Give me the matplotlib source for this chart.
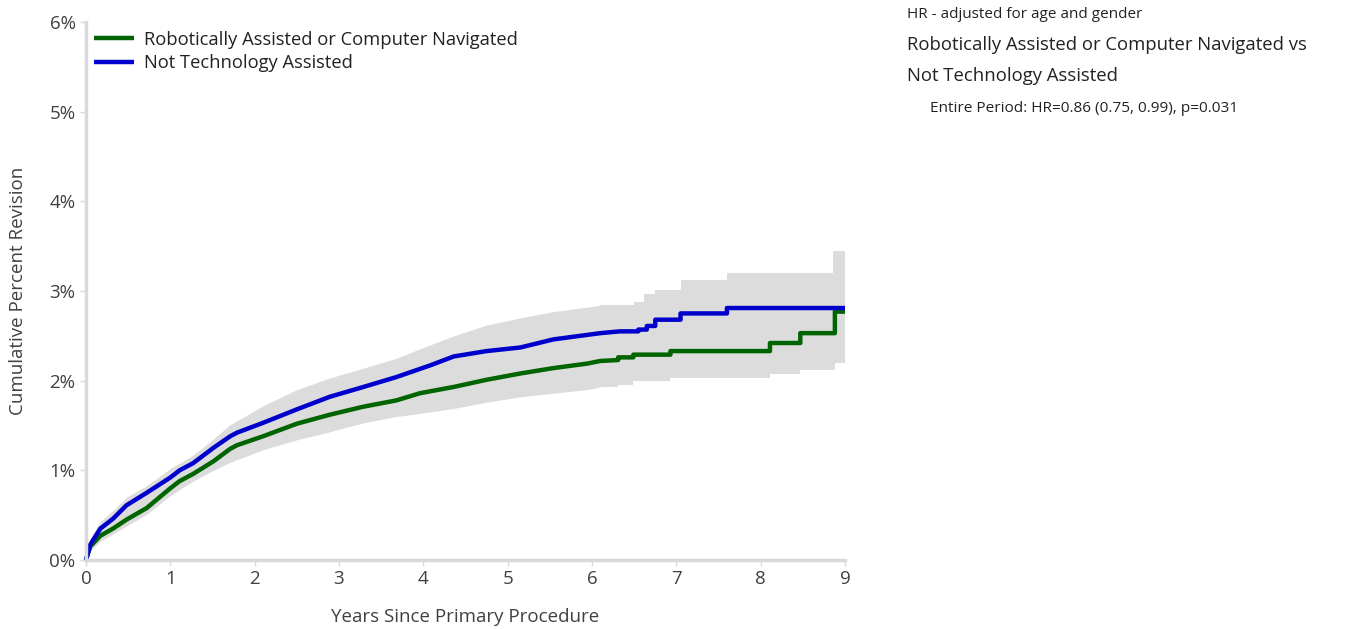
import matplotlib
matplotlib.use("Agg")
import matplotlib.pyplot as plt

plt.rcParams['font.family'] = ['Open Sans', 'DejaVu Sans']

# Not Technology Assisted (blue)
blue_t = [0, 0.05, 0.17, 0.32, 0.48, 0.72, 1.0, 1.11, 1.27, 1.51, 1.71, 1.79,
          2.1, 2.5, 2.89, 3.29, 3.68, 4.08, 4.36, 4.75, 5.15, 5.54, 5.94, 6.1,
          6.33, 6.55, 6.55, 6.65, 6.65, 6.75, 6.75, 7.05, 7.05, 7.6, 7.6, 9.0]
blue_v = [0, 0.17, 0.35, 0.46, 0.61, 0.75, 0.92, 1.0, 1.08, 1.25, 1.38, 1.42,
          1.53, 1.68, 1.82, 1.93, 2.04, 2.17, 2.27, 2.33, 2.37, 2.46, 2.51, 2.53,
          2.55, 2.55, 2.57, 2.57, 2.61, 2.61, 2.68, 2.68, 2.75, 2.75, 2.81, 2.81]

# Robotically Assisted or Computer Navigated (green)
green_t = [0, 0.05, 0.17, 0.32, 0.48, 0.72, 1.0, 1.11, 1.27, 1.51, 1.71, 1.79,
           2.1, 2.5, 2.89, 3.29, 3.68, 3.96, 4.36, 4.75, 5.15, 5.54, 5.94, 6.1,
           6.31, 6.31, 6.49, 6.49, 6.93, 6.93, 8.11, 8.11, 8.47, 8.47, 8.88, 8.88, 9.0]
green_v = [0, 0.15, 0.27, 0.35, 0.45, 0.58, 0.8, 0.88, 0.96, 1.1, 1.24, 1.28,
           1.38, 1.52, 1.62, 1.71, 1.78, 1.86, 1.93, 2.01, 2.08, 2.14, 2.19, 2.22,
           2.23, 2.26, 2.26, 2.29, 2.29, 2.33, 2.33, 2.42, 2.42, 2.53, 2.53, 2.77, 2.77]

# confidence band, early part (smooth)
band_t = [0, 0.05, 0.17, 0.32, 0.48, 0.72, 1.0, 1.27, 1.51, 1.71, 2.1, 2.5,
          2.89, 3.29, 3.68, 4.0, 4.36, 4.75, 5.15, 5.54, 5.94, 6.1]
band_hi = [0, 0.24, 0.43, 0.55, 0.7, 0.83, 1.02, 1.17, 1.35, 1.51, 1.72, 1.9,
           2.03, 2.14, 2.25, 2.37, 2.5, 2.62, 2.7, 2.77, 2.82, 2.84]
band_lo = [0, 0.1, 0.21, 0.29, 0.38, 0.51, 0.72, 0.88, 1.0, 1.09, 1.23, 1.34,
           1.43, 1.53, 1.6, 1.64, 1.69, 1.76, 1.82, 1.86, 1.9, 1.93]

# confidence band, late part (steps)
late_t = [6.1, 6.31, 6.49, 6.5, 6.62, 6.75, 6.93, 7.05, 7.6, 8.11, 8.47, 8.86, 8.88, 9.0]
late_hi = [2.84, 2.84, 2.84, 2.88, 2.97, 3.01, 3.01, 3.12, 3.2, 3.2, 3.2, 3.45, 3.45, 3.45]
late_lo = [1.93, 1.95, 2.0, 2.0, 2.0, 2.0, 2.03, 2.03, 2.03, 2.07, 2.12, 2.12, 2.2, 2.22]

x_ticks = [0, 1, 2, 3, 4, 5, 6, 7, 8, 9]
y_ticks = [0, 1, 2, 3, 4, 5, 6]

txt = '#404040'
band_col = '#dcdcdc'
axis_col = '#d9d9d9'

fig = plt.figure(figsize=(13.71, 6.29), dpi=100)
ax = fig.add_axes([86/1371, 69/629, 759/1371, 538/629])

ax.fill_between(band_t, band_lo, band_hi, color=band_col, lw=0)
ax.fill_between(late_t, late_lo, late_hi, step='post', color=band_col, lw=0)

ax.plot(green_t, green_v, color='#006400', lw=3.2, solid_capstyle='butt',
        clip_on=False, label='Robotically Assisted or Computer Navigated')
ax.plot(blue_t, blue_v, color='#0000cd', lw=3.2, solid_capstyle='butt',
        clip_on=False, label='Not Technology Assisted')

ax.set_xlim(0, 9)
ax.set_ylim(0, 6)
ax.set_xticks(x_ticks)
ax.set_yticks(y_ticks)
ax.set_yticklabels([f'{v}%' for v in y_ticks])
ax.tick_params(colors=axis_col, labelcolor=txt, labelsize=13.5, length=4, width=1)

for s in ['top', 'right']:
    ax.spines[s].set_visible(False)
for s in ['left', 'bottom']:
    ax.spines[s].set_color(axis_col)
    ax.spines[s].set_linewidth(2.5)

ax.set_xlabel('Years Since Primary Procedure', fontsize=13.5, color=txt, labelpad=14)
ax.set_ylabel('Cumulative Percent Revision', fontsize=13.5, color=txt, labelpad=16)

leg = ax.legend(loc='upper left', bbox_to_anchor=(-0.007, 1.008), frameon=False,
                fontsize=13.2, handlelength=2.2, handletextpad=0.55, labelspacing=0.3,
                borderaxespad=0.3)
for t in leg.get_texts():
    t.set_color('#222222')

fig.text(907/1371, 1 - 14/629, 'HR - adjusted for age and gender',
         fontsize=11, color='#222222', va='center')
fig.text(907/1371, 1 - 45/629, 'Robotically Assisted or Computer Navigated vs',
         fontsize=13.3, color='#222222', va='center')
fig.text(907/1371, 1 - 76/629, 'Not Technology Assisted',
         fontsize=13.3, color='#222222', va='center')
fig.text(930/1371, 1 - 108/629, 'Entire Period: HR=0.86 (0.75, 0.99), p=0.031',
         fontsize=11.1, color='#222222', va='center')

fig.savefig('out.png', dpi=100)
